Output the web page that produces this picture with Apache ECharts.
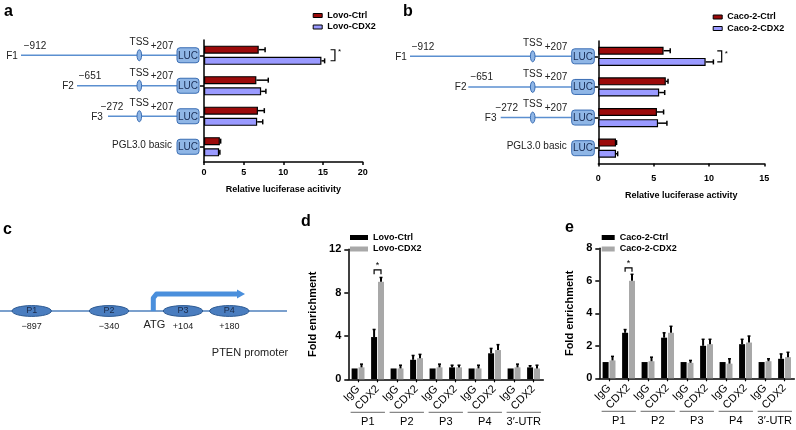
<!DOCTYPE html>
<html><head><meta charset="utf-8">
<script src="https://cdn.jsdelivr.net/npm/echarts@6/dist/echarts.min.js"></script>
<style>html,body{margin:0;padding:0;background:#fff}#c{width:796px;height:430px}</style>
</head><body><div id="c"></div>
<script>
// ---------- data ----------
const constructs = ['F1', 'F2', 'F3', 'PGL3.0 basic'];
const lovoCtrl    = [6.9, 6.6, 6.8, 2.0];
const lovoCtrlErr = [0.8, 1.5, 0.8, 0.1];
const lovoCdx2    = [14.8, 7.2, 6.7, 1.9];
const lovoCdx2Err = [0.4, 0.6, 0.7, 0.1];
const cacoCtrl    = [5.9, 6.1, 5.3, 1.6];
const cacoCtrlErr = [0.6, 0.2, 0.6, 0.05];
const cacoCdx2    = [9.7, 5.5, 5.4, 1.6];
const cacoCdx2Err = [0.7, 0.5, 0.8, 0.15];
const xTicksA = [0, 5, 10, 15, 20];
const xTicksB = [0, 5, 10, 15];

const chipCats   = ['IgG','CDX2','IgG','CDX2','IgG','CDX2','IgG','CDX2','IgG','CDX2'];
const chipGroups = ['P1','P2','P3','P4','3′-UTR'];
const dCtrl    = [1.0, 3.9, 1.0, 1.8, 1.0, 1.1, 1.0, 2.4, 1.0, 1.1];
const dCtrlErr = [0,   0.7, 0,   0.4, 0,   0.2, 0,   0.45, 0,  0.15];
const dCdx2    = [1.1, 9.0, 1.0, 1.95, 1.1, 1.1, 1.0, 2.7, 1.1, 1.0];
const dCdx2Err = [0.3, 0.4, 0.3, 0.35, 0.3, 0.2, 0.3, 0.5, 0.3, 0.3];
const eCtrl    = [1.0, 2.8, 1.0, 2.5, 1.0, 2.0, 1.0, 2.1, 1.0, 1.2];
const eCtrlErr = [0,   0.2, 0,   0.3, 0,   0.4, 0,   0.3, 0,   0.3];
const eCdx2    = [1.1, 6.0, 1.05, 2.8, 0.95, 2.1, 0.9, 2.2, 1.05, 1.3];
const eCdx2Err = [0.25, 0.4, 0.25, 0.4, 0.15, 0.3, 0.3, 0.4, 0.15, 0.3];
const yTicksD = [0, 4, 8, 12];
const yTicksE = [0, 2, 4, 6, 8];

const promoterSites = ['P1','P2','P3','P4'];
const promoterPos   = ['−897','−340','+104','+180'];

// ---------- style ----------
const FONT = '"Liberation Sans", Arial, sans-serif';
const RED = '#9b0a0a', PURPLE = '#9a9aff', BLACK = '#000', GREY = '#a8a8a8';
const SCH = '#5b8fd0', LUCF = '#8fb6e6', LUCB = '#3a6db3';

const chart = echarts.init(document.getElementById('c'));

function hErr(values, errs, offset, ax) {
  return {
    type: 'custom', xAxisIndex: ax, yAxisIndex: ax, z: 5, silent: true, clip: false,
    encode: { x: [0, 2], y: 1 },
    data: values.map((v, i) => [v, i, v + errs[i]]),
    renderItem(params, api) {
      const p0 = api.coord([api.value(0), api.value(1)]);
      const p1 = api.coord([api.value(2), api.value(1)]);
      const y = p0[1] + offset;
      return { type: 'group', children: [
        { type: 'line', shape: { x1: p0[0], y1: y, x2: p1[0], y2: y }, style: { stroke: '#000', lineWidth: 1.5 } },
        { type: 'line', shape: { x1: p1[0], y1: y - 2.5, x2: p1[0], y2: y + 2.5 }, style: { stroke: '#000', lineWidth: 1.5 } }
      ]};
    }
  };
}
function vErr(values, errs, offset, ax) {
  return {
    type: 'custom', xAxisIndex: ax, yAxisIndex: ax, z: 5, silent: true, clip: false,
    encode: { x: 0, y: [1, 2] },
    data: values.map((v, i) => [i, v, v + errs[i]]).filter(d => d[2] > d[1]),
    renderItem(params, api) {
      const p0 = api.coord([api.value(0), api.value(1)]);
      const p1 = api.coord([api.value(0), api.value(2)]);
      const x = p0[0] + offset;
      return { type: 'group', children: [
        { type: 'line', shape: { x1: x, y1: p0[1], x2: x, y2: p1[1] }, style: { stroke: '#000', lineWidth: 2 } },
        { type: 'line', shape: { x1: x - 1.5, y1: p1[1], x2: x + 1.5, y2: p1[1] }, style: { stroke: '#000', lineWidth: 1.5 } }
      ]};
    }
  };
}
// bracket "]" for horizontal bars
function hBracket(catIdx, xv1, xv2, half, ax) {
  return {
    type: 'custom', xAxisIndex: ax, yAxisIndex: ax, z: 6, silent: true, clip: false,
    encode: { x: [0, 1], y: 2 },
    data: [[xv1, xv2, catIdx]],
    renderItem(params, api) {
      const a = api.coord([api.value(0), api.value(2)]);
      const b = api.coord([api.value(1), api.value(2)]);
      const y = a[1];
      return { type: 'group', children: [
        { type: 'polyline', shape: { points: [[a[0], y - half], [b[0], y - half], [b[0], y + half], [a[0], y + half]] }, style: { stroke: '#000', lineWidth: 1.2, fill: null } },
        { type: 'text', style: { text: '*', x: b[0] + 3, y: y - 3, font: '8px ' + FONT, fill: '#000', align: 'left', verticalAlign: 'middle' } }
      ]};
    }
  };
}
// bracket for vertical bars
function vBracket(catIdx, yTop, yLow, half, ax) {
  return {
    type: 'custom', xAxisIndex: ax, yAxisIndex: ax, z: 6, silent: true, clip: false,
    encode: { x: 0, y: [1, 2] },
    data: [[catIdx, yTop, yLow]],
    renderItem(params, api) {
      const t = api.coord([api.value(0), api.value(1)]);
      const l = api.coord([api.value(0), api.value(2)]);
      return { type: 'group', children: [
        { type: 'polyline', shape: { points: [[t[0] - half, l[1]], [t[0] - half, t[1]], [t[0] + half, t[1]], [t[0] + half, l[1]]] }, style: { stroke: '#000', lineWidth: 1.2, fill: null } },
        { type: 'text', style: { text: '*', x: t[0], y: t[1] - 4, font: '9px ' + FONT, fill: '#000', align: 'center', verticalAlign: 'middle' } }
      ]};
    }
  };
}
// group underline for ChIP panels
function groupLines(ax, yAx) {
  return {
    type: 'custom', xAxisIndex: ax, yAxisIndex: yAx, silent: true, clip: false,
    encode: { x: 0, y: 1 },
    data: chipGroups.map((g, i) => [i, 0]),
    renderItem(params, api) {
      const p = api.coord([api.value(0), 0]);
      const w = api.size([1, 0])[0];
      return { type: 'line', shape: { x1: p[0] - w * 0.44, y1: p[1] + 33, x2: p[0] + w * 0.44, y2: p[1] + 33 }, style: { stroke: '#444', lineWidth: 0.8 } };
    }
  };
}

const axisLineBlk = { show: true, lineStyle: { color: '#000', width: 1.5 } };
const boldLbl = (size, margin) => ({ color: '#000', fontFamily: FONT, fontWeight: 'bold', fontSize: size, margin });

function hValueAxis(gi, max, ticks, nameGap, margin) {
  return {
    type: 'value', gridIndex: gi, min: 0, max, interval: ticks[1] - ticks[0],
    axisLine: axisLineBlk, axisTick: { show: true, length: 3, lineStyle: { color: '#000', width: 1.5 } },
    splitLine: { show: false }, axisLabel: boldLbl(9, margin),
    name: 'Relative luciferase ' + (gi === 0 ? 'acitivity' : 'activity'), nameLocation: 'middle', nameGap,
    nameTextStyle: { color: '#000', fontFamily: FONT, fontWeight: 'bold', fontSize: 9 }
  };
}
function hCatAxis(gi) {
  return {
    type: 'category', gridIndex: gi, data: constructs, inverse: true,
    axisLine: axisLineBlk, axisTick: { show: true, alignWithLabel: true, length: 4, lineStyle: { color: '#000', width: 1.5 } },
    axisLabel: { show: false }
  };
}
function chipX(gi) {
  return {
    type: 'category', gridIndex: gi, data: chipCats,
    axisLine: axisLineBlk, axisTick: { show: true, alignWithLabel: true, length: 3, lineStyle: { color: '#000', width: 1.2 } },
    axisLabel: { rotate: 45, color: '#000', fontFamily: FONT, fontSize: 11, margin: 8, interval: 0 }
  };
}
function chipGroupX(gi) {
  return {
    type: 'category', gridIndex: gi, data: chipGroups, position: 'bottom', offset: 31,
    axisLine: { show: false }, axisTick: { show: false },
    axisLabel: { color: '#000', fontFamily: FONT, fontSize: 11, margin: 6, interval: 0 }
  };
}
function chipY(gi, max, ticks, nameGap) {
  return {
    type: 'value', gridIndex: gi, min: 0, max, interval: ticks[1] - ticks[0],
    axisLine: axisLineBlk, axisTick: { show: true, length: 4, lineStyle: { color: '#000', width: 1.5 } },
    splitLine: { show: false }, axisLabel: boldLbl(11, 7),
    name: 'Fold enrichment', nameLocation: 'middle', nameGap,
    nameTextStyle: { color: '#000', fontFamily: FONT, fontWeight: 'bold', fontSize: 11 }
  };
}
function hBar(name, data, color, ax) {
  return { type: 'bar', name, data, xAxisIndex: ax, yAxisIndex: ax, barWidth: 8, barGap: '40%',
    itemStyle: { color, borderColor: '#000', borderWidth: 1.2 }, silent: true };
}
function vBar(name, data, color, ax) {
  return { type: 'bar', name, data, xAxisIndex: ax, yAxisIndex: ax, barWidth: 6, barGap: '15%',
    itemStyle: { color }, silent: true };
}
function legendAt(left, top, items, iw, ih, fs) {
  return {
    left, top, orient: 'vertical', icon: 'rect', itemWidth: iw, itemHeight: ih, itemGap: 2.5,
    selectedMode: false, padding: 0,
    textStyle: { color: '#000', fontFamily: FONT, fontWeight: 'bold', fontSize: fs, padding: [0, 0, 0, 0] },
    data: items
  };
}

chart.setOption({
  animation: false,
  backgroundColor: '#fff',
  grid: [
    { left: 204, top: 40, width: 158.7, height: 122 },
    { left: 598.3, top: 41, width: 166, height: 122.5 },
    { left: 348.3, top: 249.3, width: 195, height: 130 },
    { left: 599.3, top: 248.3, width: 195, height: 130 }
  ],
  xAxis: [
    hValueAxis(0, 20, xTicksA, 23, 6),
    hValueAxis(1, 15, xTicksB, 28, 11),
    chipX(2), chipX(3), chipGroupX(2), chipGroupX(3)
  ],
  yAxis: [
    hCatAxis(0), hCatAxis(1),
    chipY(2, 12, yTicksD, 30), chipY(3, 8, yTicksE, 24)
  ],
  legend: [
    legendAt(312.7, 11, [
      { name: 'Lovo-Ctrl', itemStyle: { color: RED, borderColor: '#000', borderWidth: 1 } },
      { name: 'Lovo-CDX2', itemStyle: { color: PURPLE, borderColor: '#000', borderWidth: 1 } }], 9, 4, 9),
    legendAt(712.7, 12.5, [
      { name: 'Caco-2-Ctrl', itemStyle: { color: RED, borderColor: '#000', borderWidth: 1 } },
      { name: 'Caco-2-CDX2', itemStyle: { color: PURPLE, borderColor: '#000', borderWidth: 1 } }], 9, 4, 9),
    legendAt(350, 233, [
      { name: 'Lovo-Ctrl', itemStyle: { color: BLACK, borderWidth: 0 } },
      { name: 'Lovo-CDX2', itemStyle: { color: GREY, borderWidth: 0 } }], 18, 5, 9),
    legendAt(601.7, 233, [
      { name: 'Caco-2-Ctrl', itemStyle: { color: BLACK, borderWidth: 0 } },
      { name: 'Caco-2-CDX2', itemStyle: { color: GREY, borderWidth: 0 } }], 13, 5, 9)
  ],
  series: [
    hBar('Lovo-Ctrl', lovoCtrl, RED, 0), hBar('Lovo-CDX2', lovoCdx2, PURPLE, 0),
    hErr(lovoCtrl, lovoCtrlErr, -5.6, 0), hErr(lovoCdx2, lovoCdx2Err, 5.6, 0),
    hBracket(0, 15.95, 16.5, 5.5, 0),
    hBar('Caco-2-Ctrl', cacoCtrl, RED, 1), hBar('Caco-2-CDX2', cacoCdx2, PURPLE, 1),
    hErr(cacoCtrl, cacoCtrlErr, -5.6, 1), hErr(cacoCdx2, cacoCdx2Err, 5.6, 1),
    hBracket(0, 10.75, 11.15, 5.5, 1),
    vBar('Lovo-Ctrl', dCtrl, BLACK, 2), vBar('Lovo-CDX2', dCdx2, GREY, 2),
    vErr(dCtrl, dCtrlErr, -3.45, 2), vErr(dCdx2, dCdx2Err, 3.45, 2),
    vBracket(1, 10.1, 9.7, 3.45, 2),
    vBar('Caco-2-Ctrl', eCtrl, BLACK, 3), vBar('Caco-2-CDX2', eCdx2, GREY, 3),
    vErr(eCtrl, eCtrlErr, -3.45, 3), vErr(eCdx2, eCdx2Err, 3.45, 3),
    vBracket(1, 6.8, 6.55, 3.45, 3),
    groupLines(4, 2), groupLines(5, 3)
  ]
});

// ---------- schematic graphics ----------
const els = [];
function txt(text, x, y, opt) {
  els.push({ type: 'text', silent: true, z: 10, style: Object.assign({ text, x, y, font: '10px ' + FONT, fill: '#222', align: 'center', verticalAlign: 'middle' }, opt || {}) });
}
function line(x1, y1, x2, y2, stroke, w) {
  els.push({ type: 'line', silent: true, z: 9, shape: { x1, y1, x2, y2 }, style: { stroke, lineWidth: w } });
}
function luc(x, y, w) {
  els.push({ type: 'rect', silent: true, z: 10, shape: { x, y: y - 7.5, width: w, height: 15, r: 3 }, style: { fill: LUCF, stroke: LUCB, lineWidth: 1 } });
  txt('LUC', x + w / 2, y + 0.5, { font: '10px ' + FONT, fill: '#1a2d55' });
}
function tss(x, y) {
  els.push({ type: 'ellipse', silent: true, z: 10, shape: { cx: x, cy: y, rx: 2.3, ry: 5.5 }, style: { fill: LUCF, stroke: LUCB, lineWidth: 1 } });
}
function construct(ax, geo) {
  constructs.forEach((c, i) => {
    const y = chart.convertToPixel({ yAxisIndex: ax }, i);
    const g = geo[i];
    if (g) {
      line(g.start, y, geo.lucX, y, SCH, 1.5);
      tss(geo.tssX, y);
      txt(c, g.lab, y + 0.5);
      txt(g.pos, g.posX, y - 9.5);
      txt('TSS', geo.tssX, y - 13);
      txt('+207', geo.plusX, y - 9.5);
    } else {
      txt(c, geo.pglR, y + 0.5 - 2, { align: 'right' });
    }
    luc(geo.lucX, y, geo.lucW);
  });
}
construct(0, {
  lucX: 177, lucW: 22, tssX: 139.3, plusX: 162, pglR: 172,
  0: { start: 21, lab: 12, pos: '−912', posX: 35 },
  1: { start: 77, lab: 68, pos: '−651', posX: 90 },
  2: { start: 108, lab: 97, pos: '−272', posX: 112 }
});
construct(1, {
  lucX: 571.7, lucW: 22.6, tssX: 532.7, plusX: 556, pglR: 566.7,
  0: { start: 410, lab: 401, pos: '−912', posX: 423 },
  1: { start: 468.3, lab: 460.7, pos: '−651', posX: 481.7 },
  2: { start: 500.7, lab: 490.7, pos: '−272', posX: 506.7 }
});

// panel c: PTEN promoter
const cY = 311;
line(0, cY, 287, cY, '#4f81bd', 1.5);
els.push({ type: 'polyline', silent: true, z: 9, shape: { points: [[153.3, cY], [153.3, 298], [156.5, 294], [238, 294]] }, style: { stroke: '#4a8fdc', lineWidth: 5, fill: null, lineJoin: 'round' } });
els.push({ type: 'polygon', silent: true, z: 9, shape: { points: [[237, 289.5], [245, 294], [237, 298.5]] }, style: { fill: '#4a8fdc' } });
const cX = [31.7, 109, 183, 229.3];
promoterSites.forEach((p, i) => {
  els.push({ type: 'ellipse', silent: true, z: 10, shape: { cx: cX[i], cy: cY, rx: 19.7, ry: 5.4 }, style: { fill: '#4a7dbf', stroke: '#2d5a92', lineWidth: 1 } });
  txt(p, cX[i], cY, { font: '9px ' + FONT, fill: '#1b2a48' });
  txt(promoterPos[i], cX[i], 326.5, { font: '9px ' + FONT });
});
txt('ATG', 154.3, 325, { font: '11px ' + FONT });
txt('PTEN promoter', 250, 352.5, { font: '11px ' + FONT });

// panel letters
const L = { font: 'bold 16px ' + FONT, fill: '#000', align: 'left' };
txt('a', 4, 12, L); txt('b', 403, 12, L); txt('c', 3, 230, L); txt('d', 301, 222, L); txt('e', 565, 228, L);

chart.setOption({ graphic: { elements: els } });
</script>
</body></html>
